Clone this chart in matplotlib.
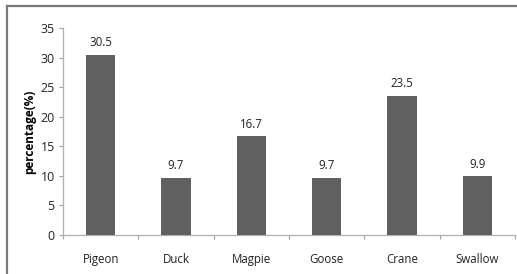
import matplotlib
matplotlib.use("Agg")
import matplotlib.pyplot as plt
from matplotlib.lines import Line2D
import numpy as np

categories = ["Pigeon", "Duck", "Magpie", "Goose", "Crane", "Swallow"]
values = [30.5, 9.7, 16.7, 9.7, 23.5, 9.9]
yticks = [0, 5, 10, 15, 20, 25, 30, 35]

plt.rcParams['font.family'] = ['Open Sans', 'DejaVu Sans']

W, H = 517, 274
fig = plt.figure(figsize=(W/100, H/100), dpi=100)
ax = fig.add_axes([63/W, 39/H, (515-63)/W, (235-28)/H])

x = np.arange(len(categories))
ax.bar(x, values, width=0.39, color="#606060", zorder=3)
for xi, v in zip(x, values):
    ax.annotate(f"{v:.1f}", (xi, v), xytext=(0, 4), textcoords="offset points",
                ha="center", va="bottom", fontsize=8.3, color="#222222")

ax.set_xlim(-0.5, len(categories) - 0.5)
ax.set_ylim(0, 35)
ax.set_yticks(yticks)
ax.set_yticklabels([str(t) for t in yticks], fontsize=9, color="#222222")
ax.set_xticks(x)
ax.set_xticklabels(categories, fontsize=8.3, color="#222222")
ax.tick_params(axis="x", length=0, pad=13)
ax.set_xticks(np.arange(len(categories) + 1) - 0.5, minor=True)
ax.tick_params(axis="x", which="minor", length=3, color="#a0a0a0", width=0.8)
ax.tick_params(axis="y", length=3, color="#a0a0a0", width=0.8, pad=3)

for s in ["top", "right"]:
    ax.spines[s].set_visible(False)
for s in ["left", "bottom"]:
    ax.spines[s].set_color("#b0b0b0")
    ax.spines[s].set_linewidth(0.9)

ax.set_ylabel("percentage(%)", fontsize=8.5, fontweight="bold", labelpad=3)

# outer frame (top and left edges visible)
fig.add_artist(Line2D([7/W, 1.0], [1 - 6/H, 1 - 6/H], transform=fig.transFigure,
                      color="#7a7a7a", linewidth=1.6))
fig.add_artist(Line2D([7/W, 7/W], [0, 1 - 6/H], transform=fig.transFigure,
                      color="#7a7a7a", linewidth=1.6))

fig.savefig("out.png", dpi=100)
